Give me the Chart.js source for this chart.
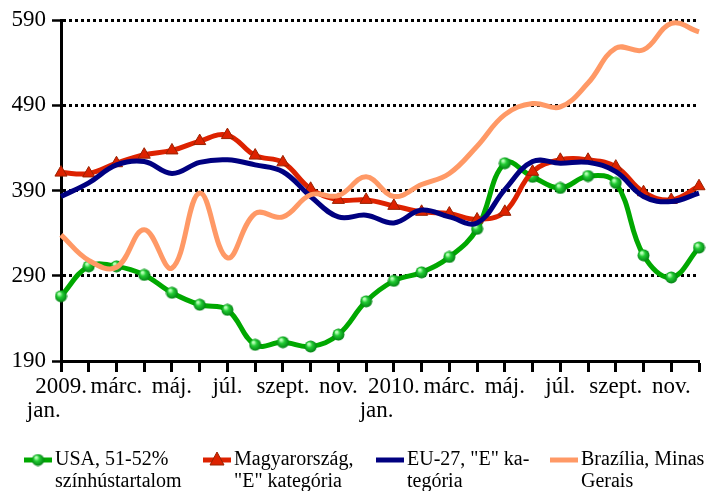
<!DOCTYPE html>
<html>
<head>
<meta charset="utf-8">
<script src="https://cdn.jsdelivr.net/npm/chart.js@4.4.0/dist/chart.umd.min.js"></script>
<style>
html, body { margin: 0; padding: 0; background: #fff; }
#wrap { width: 708px; height: 491px; }
</style>
</head>
<body>
<div id="wrap"><canvas id="myChart"></canvas></div>
<script>
// havi adatok, 2009. jan. - 2010. dec.
const months = [
    "2009. jan.", "febr.", "márc.", "ápr.", "máj.", "jún.", "júl.", "aug.", "szept.", "okt.", "nov.", "dec.",
    "2010. jan.", "febr.", "márc.", "ápr.", "máj.", "jún.", "júl.", "aug.", "szept.", "okt.", "nov.", "dec."
];
const tickLabels = [
    ["2009.", "jan.      "], "", "márc.", "", "máj.", "", "júl.", "", "szept.", "", "nov.", "",
    ["2010.", "jan.      "], "", "márc.", "", "máj.", "", "júl.", "", "szept.", "", "nov.", ""
];
const usa     = [266, 301, 301, 291, 270, 256, 250, 209, 212, 207, 221, 260, 284, 294, 312, 345, 422, 406, 393, 407, 399, 314, 288, 323];
const hungary = [411, 410, 422, 432, 437, 448, 455, 431, 423, 392, 379, 379, 372, 365, 363, 356, 365, 412, 426, 426, 418, 388, 379, 395];
const eu27    = [383, 399, 420, 424, 410, 423, 426, 420, 412, 383, 359, 361, 352, 367, 359, 352, 391, 424, 422, 423, 412, 383, 377, 387];
const brazil  = [338, 308, 300, 344, 299, 387, 311, 363, 359, 385, 384, 406, 383, 397, 410, 442, 479, 492, 488, 516, 557, 555, 586, 576];
const yTicks  = [190, 290, 390, 490, 590];

const seriesNames = [
    ["USA, 51-52%", "színhústartalom"],
    ["Magyarország,", "\"E\" kategória"],
    ["EU-27, \"E\" ka-", "tegória"],
    ["Brazília, Minas", "Gerais"]
];
const colors = ["#00a800", "#dd2200", "#000080", "#ff9966"];

// zöld gömb marker
function makeSphere(size) {
    const c = document.createElement("canvas");
    c.width = size; c.height = size;
    const g = c.getContext("2d");
    const r = size / 2;
    const grad = g.createRadialGradient(r * 0.7, r * 0.6, 1, r, r, r);
    grad.addColorStop(0, "#b8ffb8");
    grad.addColorStop(0.35, "#22cc33");
    grad.addColorStop(1, "#007a10");
    g.fillStyle = grad;
    g.beginPath();
    g.arc(r, r, r - 0.5, 0, Math.PI * 2);
    g.fill();
    return c;
}
const sphere = makeSphere(13);

const legendPlugin = {
    id: "customLegend",
    afterDraw(chart) {
        const ctx = chart.ctx;
        const xs = [24, 203, 376, 550];
        const y = 460;
        ctx.save();
        ctx.font = "20px 'Liberation Serif'";
        ctx.textBaseline = "middle";
        ctx.fillStyle = "#000";
        xs.forEach((x, i) => {
            ctx.strokeStyle = colors[i];
            ctx.lineWidth = 5;
            ctx.beginPath();
            ctx.moveTo(x, y);
            ctx.lineTo(x + 28, y);
            ctx.stroke();
            if (i === 0) {
                ctx.drawImage(sphere, x + 14 - 6.5, y - 6.5);
            } else if (i === 1) {
                ctx.fillStyle = "#dd2200";
                ctx.strokeStyle = "#992200";
                ctx.lineWidth = 1;
                ctx.beginPath();
                ctx.moveTo(x + 14, y - 8);
                ctx.lineTo(x + 21, y + 5);
                ctx.lineTo(x + 7, y + 5);
                ctx.closePath();
                ctx.fill();
                ctx.stroke();
            }
            ctx.fillStyle = "#000";
            ctx.fillText(seriesNames[i][0], x + 31, y);
            ctx.fillText(seriesNames[i][1], x + 31, y + 22);
        });
        ctx.restore();
    }
};

new Chart("myChart", {
    type: "line",
    data: {
        labels: months,
        datasets: [{
            label: seriesNames[0].join(" "),
            data: usa,
            borderColor: colors[0],
            borderWidth: 5,
            pointStyle: sphere,
            order: 4
        }, {
            label: seriesNames[1].join(" "),
            data: hungary,
            borderColor: colors[1],
            borderWidth: 5,
            pointStyle: "triangle",
            pointRadius: 7,
            pointBackgroundColor: "#dd2200",
            pointBorderColor: "#992200",
            pointBorderWidth: 1,
            order: 3
        }, {
            label: seriesNames[2].join(" "),
            data: eu27,
            borderColor: colors[2],
            borderWidth: 5,
            pointRadius: 0,
            order: 2
        }, {
            label: seriesNames[3].join(" "),
            data: brazil,
            borderColor: colors[3],
            borderWidth: 5,
            pointRadius: 0,
            order: 1
        }]
    },
    options: {
        responsive: true,
        maintainAspectRatio: false,
        animation: false,
        layout: { padding: { top: 20, right: 1, left: 0, bottom: 0 } },
        elements: { line: { tension: 0.4 } },
        plugins: {
            legend: { display: false },
            tooltip: { enabled: false }
        },
        scales: {
            x: {
                afterFit: s => { s.height = 130; },
                grid: {
                    drawOnChartArea: false,
                    tickLength: 11,
                    tickWidth: 3,
                    tickColor: "#000"
                },
                border: { color: "#000", width: 3 },
                ticks: {
                    autoSkip: false,
                    maxRotation: 0,
                    padding: 3,
                    color: "#000",
                    font: { family: "'Liberation Serif'", size: 23, lineHeight: 1.05 },
                    callback: (v, i) => tickLabels[i]
                }
            },
            y: {
                min: yTicks[0],
                max: yTicks[yTicks.length - 1],
                afterFit: s => { s.width = 61; },
                afterBuildTicks: s => { s.ticks = yTicks.map(v => ({ value: v })); },
                grid: {
                    color: c => c.tick && c.tick.value === 190 ? "rgba(0,0,0,0)" : "#000",
                    lineWidth: 3,
                    tickBorderDash: [],
                    tickColor: "#000",
                    tickWidth: 2.5,
                    tickLength: 9
                },
                border: { color: "#000", width: 3, dash: [3, 3] },
                ticks: {
                    padding: 6,
                    color: "#000",
                    font: { family: "'Liberation Serif'", size: 23 }
                }
            }
        }
    },
    plugins: [legendPlugin]
});
</script>
</body>
</html>
